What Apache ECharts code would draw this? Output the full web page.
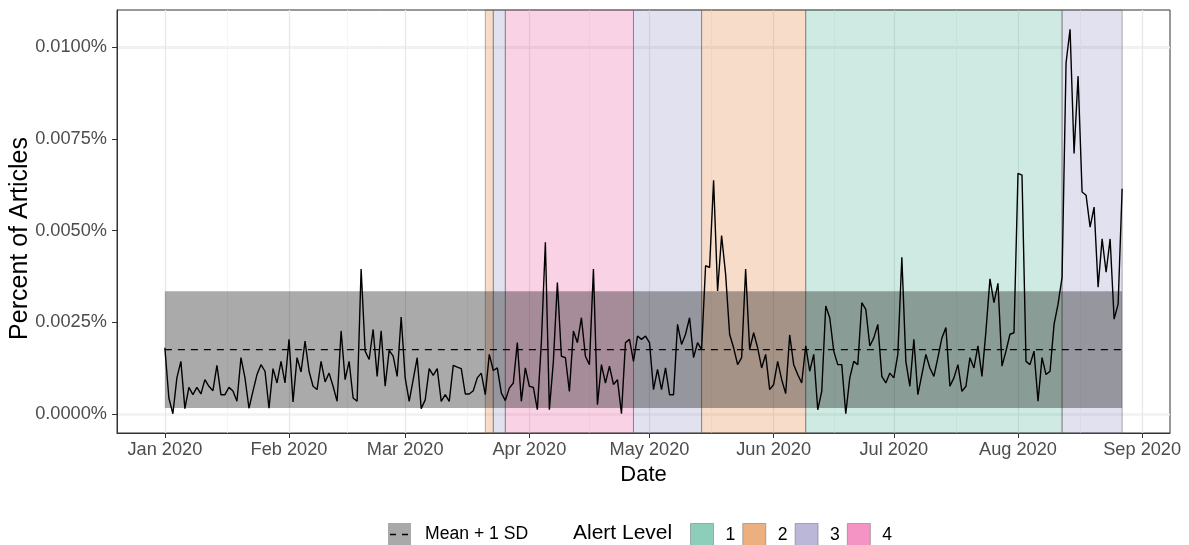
<!DOCTYPE html>
<html><head><meta charset="utf-8">
<script src="https://cdn.jsdelivr.net/npm/echarts@6/dist/echarts.min.js"></script>
<style>html,body{margin:0;padding:0;background:#fff}#c{width:1189px;height:545px}</style>
</head><body><div id="c"></div>
<script>
// ---------------- data ----------------
const startDate = '2020-01-01';           // first day of the daily series
const percentOfArticles = [               // daily values, in percent
0.00180,0.00043,0.00000,0.00098,0.00143,0.00014,0.00072,0.00052,0.00072,0.00054,
0.00093,0.00075,0.00063,0.00132,0.00052,0.00052,0.00072,0.00062,0.00034,0.00153,
0.00098,0.00015,0.00062,0.00107,0.00134,0.00116,0.00015,0.00123,0.00084,0.00143,
0.00084,0.00203,0.00032,0.00153,0.00114,0.00198,0.00116,0.00075,0.00066,0.00143,
0.00087,0.00111,0.00075,0.00034,0.00226,0.00093,0.00143,0.00043,0.00034,0.00395,
0.00171,0.00148,0.00230,0.00102,0.00226,0.00075,0.00173,0.00157,0.00102,0.00264,
0.00098,0.00034,0.00093,0.00153,0.00014,0.00038,0.00123,0.00105,0.00123,0.00034,
0.00052,0.00034,0.00132,0.00127,0.00123,0.00054,0.00054,0.00063,0.00098,0.00111,
0.00052,0.00162,0.00118,0.00125,0.00057,0.00036,0.00070,0.00084,0.00194,0.00034,
0.00125,0.00075,0.00072,0.00011,0.00194,0.00468,0.00011,0.00143,0.00358,0.00157,
0.00153,0.00061,0.00226,0.00194,0.00262,0.00157,0.00134,0.00395,0.00025,0.00134,
0.00084,0.00130,0.00080,0.00093,0.00000,0.00194,0.00203,0.00143,0.00212,0.00203,
0.00212,0.00194,0.00066,0.00121,0.00066,0.00125,0.00052,0.00052,0.00244,0.00189,
0.00217,0.00262,0.00153,0.00194,0.00175,0.00404,0.00399,0.00637,0.00335,0.00486,
0.00381,0.00217,0.00180,0.00134,0.00153,0.00395,0.00175,0.00221,0.00180,0.00125,
0.00162,0.00066,0.00080,0.00143,0.00093,0.00055,0.00215,0.00134,0.00107,0.00084,
0.00185,0.00116,0.00162,0.00011,0.00061,0.00294,0.00262,0.00171,0.00134,0.00134,
0.00000,0.00098,0.00143,0.00134,0.00303,0.00285,0.00185,0.00207,0.00244,0.00102,
0.00084,0.00111,0.00098,0.00162,0.00427,0.00143,0.00075,0.00203,0.00052,0.00107,
0.00162,0.00125,0.00102,0.00153,0.00207,0.00235,0.00075,0.00098,0.00134,0.00061,
0.00075,0.00153,0.00125,0.00185,0.00102,0.00226,0.00368,0.00303,0.00356,0.00130,
0.00171,0.00217,0.00221,0.00656,0.00651,0.00143,0.00134,0.00171,0.00034,0.00153,
0.00107,0.00116,0.00244,0.00299,0.00372,0.00957,0.01049,0.00710,0.00921,0.00605,
0.00596,0.00509,0.00564,0.00345,0.00477,0.00386,0.00477,0.00258,0.00299,0.00614
];
const bandMean = 0.00175;                 // dashed mean line
const bandSD = 0.00159;                   // half-height of the grey band
const alertLevels = ['1', '2', '3', '4'];
const alertPeriods = [
  { level: '2', start: '2020-03-21', end: '2020-03-23' },
  { level: '3', start: '2020-03-23', end: '2020-03-26' },
  { level: '4', start: '2020-03-26', end: '2020-04-27' },
  { level: '3', start: '2020-04-27', end: '2020-05-14' },
  { level: '2', start: '2020-05-14', end: '2020-06-09' },
  { level: '1', start: '2020-06-09', end: '2020-08-12' },
  { level: '3', start: '2020-08-12', end: '2020-08-27' }
];
const xTickDates = ['2020-01-01','2020-02-01','2020-03-01','2020-04-01','2020-05-01','2020-06-01','2020-07-01','2020-08-01','2020-09-01'];
const xTickLabels = ['Jan 2020','Feb 2020','Mar 2020','Apr 2020','May 2020','Jun 2020','Jul 2020','Aug 2020','Sep 2020'];
const yTicks = [0, 0.0025, 0.005, 0.0075, 0.01];

// ---------------- styling ----------------
const alertColors = { '1': [27,158,119], '2': [217,95,2], '3': [117,112,179], '4': [231,41,138] };
const rgba = (c, a) => `rgba(${c[0]},${c[1]},${c[2]},${a})`;
const FONT = "'Liberation Sans', Arial, Helvetica, sans-serif";
const DAY = 86400000;
function utc(s) { const p = s.split('-').map(Number); return Date.UTC(p[0], p[1] - 1, p[2]); }

const t0 = utc(startDate);
const seriesData = percentOfArticles.map((v, i) => [t0 + i * DAY, v]);
const first = seriesData[0][0], last = seriesData[seriesData.length - 1][0];
const xPad = 0.05 * (last - first);
const yMinD = Math.min(...percentOfArticles), yMaxD = Math.max(...percentOfArticles);
const yPad = 0.05 * (yMaxD - yMinD);
const xTicks = xTickDates.map(utc);

// gridlines (major + minor) as lines under everything
const MAJ = { color: '#e8e8e8', width: 1.3, type: 'solid' };
const MIN = { color: '#f3f3f3', width: 0.8, type: 'solid' };
const gridLines = [];
yTicks.forEach(v => gridLines.push({ yAxis: v, lineStyle: MAJ }));
for (let i = 0; i < yTicks.length - 1; i++)
  gridLines.push({ yAxis: (yTicks[i] + yTicks[i + 1]) / 2, lineStyle: MIN });
xTicks.forEach(v => gridLines.push({ xAxis: v, lineStyle: MAJ }));
for (let i = 0; i < xTicks.length - 1; i++)
  gridLines.push({ xAxis: (xTicks[i] + xTicks[i + 1]) / 2, lineStyle: MIN });

const bandIcon = 'image://data:image/svg+xml;charset=utf-8,' + encodeURIComponent(
  "<svg xmlns='http://www.w3.org/2000/svg' width='23' height='23'>" +
  "<rect x='0' y='0' width='23' height='23' fill='#a9a9a9'/>" +
  "<line x1='2' y1='11.5' x2='21' y2='11.5' stroke='#000' stroke-width='1.5' stroke-dasharray='6,6'/></svg>");

const alertSeries = alertLevels.map(lv => ({
  name: lv, type: 'bar', data: [],
  itemStyle: { color: rgba(alertColors[lv], 0.5) },
  markArea: {
    silent: true, z: 1,
    itemStyle: { color: rgba(alertColors[lv], 0.21), borderColor: 'rgba(110,110,110,0.55)', borderWidth: 1 },
    data: alertPeriods.filter(p => p.level === lv).map(p => [{ xAxis: utc(p.start) }, { xAxis: utc(p.end) }])
  }
}));

const option = {
  animation: false,
  textStyle: { fontFamily: FONT },
  grid: { left: 117, right: 19, top: 10, bottom: 112, containLabel: false, outerBoundsMode: 'none',
          show: true, borderColor: '#333', borderWidth: 1, backgroundColor: 'transparent' },
  title: { text: 'Alert Level', left: 573, top: 523, padding: 0,
           textStyle: { fontSize: 21, fontWeight: 'normal', color: '#000', fontFamily: FONT } },
  legend: [
    { left: 388, top: 523, padding: 0, itemWidth: 23, itemHeight: 23, selectedMode: false,
      textStyle: { fontSize: 17.6, color: '#000', padding: [0, 0, 0, 9], fontFamily: FONT },
      data: [{ name: 'Mean + 1 SD', icon: bandIcon }] },
    { left: 690, top: 523, padding: 0, itemWidth: 23, itemHeight: 23, itemGap: 7, selectedMode: false, icon: 'rect',
      textStyle: { fontSize: 17.6, color: '#000', padding: [0, 0, 0, 7], fontFamily: FONT },
      data: alertLevels.map(lv => ({ name: lv, itemStyle: { color: rgba(alertColors[lv], 0.5), borderColor: 'rgba(110,110,110,0.5)', borderWidth: 1 } })) }
  ],
  xAxis: {
    type: 'value', min: first - xPad, max: last + xPad,
    axisLine: { show: true, onZero: false, lineStyle: { color: '#333', width: 1 } },
    axisTick: { show: true, customValues: xTicks, length: 5, lineStyle: { color: '#333', width: 1 } },
    axisLabel: { customValues: xTicks, fontSize: 18.2, color: '#4d4d4d', margin: 8, fontFamily: FONT,
                 formatter: v => { const i = xTicks.indexOf(v); return i >= 0 ? xTickLabels[i] : ''; } },
    splitLine: { show: false },
    name: 'Date', nameLocation: 'middle', nameGap: 31, nameMoveOverlap: false,
    nameTextStyle: { fontSize: 22, color: '#000', fontFamily: FONT }
  },
  yAxis: {
    type: 'value', min: yMinD - yPad, max: yMaxD + yPad,
    axisLine: { show: true, onZero: false, lineStyle: { color: '#333', width: 1 } },
    axisTick: { show: true, customValues: yTicks, length: 5, lineStyle: { color: '#333', width: 1 } },
    axisLabel: { customValues: yTicks, fontSize: 18.2, color: '#4d4d4d', margin: 10, fontFamily: FONT,
                 formatter: v => v.toFixed(4) + '%' },
    splitLine: { show: false },
    name: 'Percent of Articles', nameLocation: 'middle', nameGap: 84, nameMoveOverlap: false,
    nameTextStyle: { fontSize: 25, color: '#000', fontFamily: FONT, padding: [0, 34, 0, 0] }
  },
  series: [
    { name: 'gridlines', type: 'line', data: [], silent: true,
      markLine: { silent: true, z: 0, symbol: 'none', label: { show: false }, animation: false, data: gridLines } },
    ...alertSeries,
    { name: 'Mean + 1 SD', type: 'line', z: 3, symbol: 'none', silent: true,
      data: [[first, bandMean], [last, bandMean]],
      itemStyle: { color: '#a9a9a9' },
      lineStyle: { color: '#000', width: 1.3, type: [7, 6] },
      markArea: { silent: true, z: 2, itemStyle: { color: 'rgba(0,0,0,0.335)' },
        data: [[{ coord: [first, bandMean - bandSD] }, { coord: [last, bandMean + bandSD] }]] } },
    { name: 'Percent of Articles', type: 'line', z: 4, symbol: 'none', silent: true,
      data: seriesData, lineStyle: { color: '#000', width: 1.4 }, itemStyle: { color: '#000' } }
  ]
};
const chart = echarts.init(document.getElementById('c'));
chart.setOption(option);
</script></body></html>
